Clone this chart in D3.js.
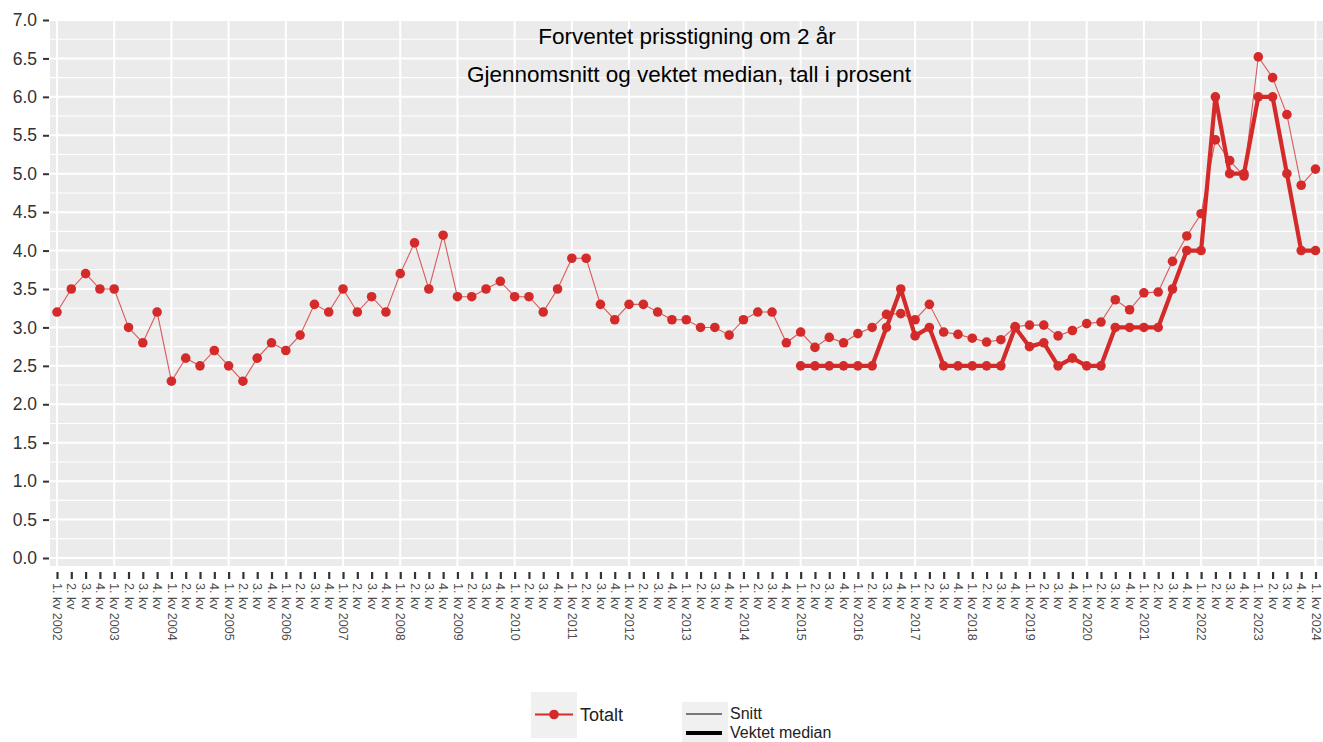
<!DOCTYPE html>
<html>
<head>
<meta charset="utf-8">
<script src="https://cdn.jsdelivr.net/npm/d3@7"></script>
<style>
  body { margin: 0; background: #fff; }
  text { font-family: "Liberation Sans", Arial, sans-serif; }
</style>
</head>
<body>
<svg width="1323" height="742"></svg>
<script>
var svg = d3.select("svg");

// kvartaler fra 1. kv 2002 til 1. kv 2024
var years = d3.range(2002, 2025);
var quarters = [];
years.forEach(function (y) {
  [1, 2, 3, 4].forEach(function (q) {
    if (y < 2024 || q == 1) quarters.push({ year: y, q: q });
  });
});

// Snitt, Totalt
var snitt = [3.2, 3.5, 3.7, 3.5, 3.5, 3.0, 2.8, 3.2,
  2.3, 2.6, 2.5, 2.7, 2.5, 2.3, 2.6, 2.8,
  2.7, 2.9, 3.3, 3.2, 3.5, 3.2, 3.4, 3.2,
  3.7, 4.1, 3.5, 4.2, 3.4, 3.4, 3.5, 3.6,
  3.4, 3.4, 3.2, 3.5, 3.9, 3.9, 3.3, 3.1,
  3.3, 3.3, 3.2, 3.1, 3.1, 3.0, 3.0, 2.9,
  3.1, 3.2, 3.2, 2.8, 2.94, 2.74, 2.87, 2.8,
  2.92, 3.0, 3.17, 3.18, 3.1, 3.3, 2.94, 2.91,
  2.86, 2.81, 2.84, 3.01, 3.03, 3.03, 2.89, 2.96,
  3.05, 3.07, 3.36, 3.23, 3.45, 3.46, 3.86, 4.19,
  4.48, 5.44, 5.17, 4.97, 6.52, 6.25, 5.77, 4.85, 5.06];

// Vektet median, Totalt (fra 1. kv 2015)
var medianStart = 52;
var median = [2.5, 2.5, 2.5, 2.5, 2.5, 2.5, 3.0, 3.5,
  2.89, 3.0, 2.5, 2.5, 2.5, 2.5, 2.5, 3.0,
  2.75, 2.8, 2.5, 2.6, 2.5, 2.5, 3.0, 3.0,
  3.0, 3.0, 3.5, 4.0, 4.0, 6.0, 5.0, 5.0,
  6.0, 6.0, 5.0, 4.0, 4.0];

var yTicks = d3.range(0, 7.01, 0.5);
var red = "#d42a2a";

var x = d3.scaleLinear().domain([0, quarters.length - 1]).range([57, 1315.5]);
var y = d3.scaleLinear().domain([0, 7]).range([558, 20]);

var panel = { left: 50, top: 19, right: 1330, bottom: 566 };

svg.append("rect")
    .attr("x", panel.left)
    .attr("y", panel.top)
    .attr("width", panel.right - panel.left)
    .attr("height", panel.bottom - panel.top)
    .attr("fill", "#ebebeb");

var grid = svg.append("g");

grid.selectAll(".minor")
    .data(d3.range(0.25, 7, 0.5))
    .enter().append("line")
    .attr("x1", panel.left).attr("x2", panel.right)
    .attr("y1", function (d) { return y(d); })
    .attr("y2", function (d) { return y(d); })
    .attr("stroke", "#fff")
    .attr("stroke-width", 1.1);

grid.selectAll(".major")
    .data(yTicks)
    .enter().append("line")
    .attr("x1", panel.left).attr("x2", panel.right)
    .attr("y1", function (d) { return y(d); })
    .attr("y2", function (d) { return y(d); })
    .attr("stroke", "#fff")
    .attr("stroke-width", 2);

grid.selectAll(".vert")
    .data(quarters.map(function (d, i) { return i; }).filter(function (i) { return quarters[i].q == 1; }))
    .enter().append("line")
    .attr("x1", function (d) { return x(d); })
    .attr("x2", function (d) { return x(d); })
    .attr("y1", panel.top).attr("y2", panel.bottom)
    .attr("stroke", "#fff")
    .attr("stroke-width", 2);

// y-akse
var yAxis = svg.append("g")
    .attr("transform", "translate(" + (panel.left - 1) + ",0)")
    .call(d3.axisLeft(y).tickValues(yTicks).tickFormat(d3.format(".1f")).tickSize(6).tickPadding(6));
yAxis.select(".domain").remove();
yAxis.selectAll(".tick line").attr("stroke", "#333").attr("stroke-width", 2);
yAxis.selectAll(".tick text")
    .attr("fill", "#333")
    .style("font-size", "17.5px")
    .style("font-family", "Liberation Sans, Arial, sans-serif");

// x-akse
var xAxis = svg.append("g")
    .attr("transform", "translate(0," + (panel.bottom + 6) + ")")
    .call(d3.axisBottom(x)
      .tickValues(d3.range(quarters.length))
      .tickSize(7)
      .tickFormat(function (i) {
        var d = quarters[i];
        return d.q + ". kv" + (d.q == 1 ? " " + d.year : "");
      }));
xAxis.select(".domain").remove();
xAxis.selectAll(".tick line").attr("stroke", "#333").attr("stroke-width", 2.2);
xAxis.selectAll(".tick text")
    .attr("fill", "#4d4d4d")
    .attr("transform", "rotate(90)")
    .attr("x", 11)
    .attr("y", 0)
    .attr("dy", "0.35em")
    .attr("text-anchor", "start")
    .style("font-size", "12.5px")
    .style("font-family", "Liberation Sans, Arial, sans-serif");

// linjer
var snittLine = d3.line()
    .x(function (d, i) { return x(i); })
    .y(function (d) { return y(d); });

var medianLine = d3.line()
    .x(function (d, i) { return x(i + medianStart); })
    .y(function (d) { return y(d); });

svg.append("path")
    .datum(snitt)
    .attr("d", snittLine)
    .attr("fill", "none")
    .attr("stroke", red)
    .attr("stroke-opacity", 0.75)
    .attr("stroke-width", 1.1);

svg.append("g").selectAll("circle")
    .data(snitt)
    .enter().append("circle")
    .attr("cx", function (d, i) { return x(i); })
    .attr("cy", function (d) { return y(d); })
    .attr("r", 4.8)
    .attr("fill", red);

svg.append("path")
    .datum(median)
    .attr("d", medianLine)
    .attr("fill", "none")
    .attr("stroke", red)
    .attr("stroke-width", 4.2)
    .attr("stroke-linejoin", "round");

svg.append("g").selectAll("circle")
    .data(median)
    .enter().append("circle")
    .attr("cx", function (d, i) { return x(i + medianStart); })
    .attr("cy", function (d) { return y(d); })
    .attr("r", 4.8)
    .attr("fill", red);

// tittel
svg.append("text")
    .attr("x", 687)
    .attr("y", 44)
    .attr("text-anchor", "middle")
    .style("font-size", "22.5px")
    .attr("fill", "#000")
    .text("Forventet prisstigning om 2 år");

svg.append("text")
    .attr("x", 689)
    .attr("y", 82)
    .attr("text-anchor", "middle")
    .style("font-size", "22.5px")
    .attr("fill", "#000")
    .text("Gjennomsnitt og vektet median, tall i prosent");

// legende
var leg1 = svg.append("g").attr("transform", "translate(531,692)");
leg1.append("rect").attr("width", 46).attr("height", 46).attr("fill", "#f0f0f0");
leg1.append("line").attr("x1", 4).attr("x2", 42).attr("y1", 22.5).attr("y2", 22.5)
    .attr("stroke", red).attr("stroke-width", 2);
leg1.append("circle").attr("cx", 23).attr("cy", 22.5).attr("r", 4.8).attr("fill", red);
leg1.append("text").attr("x", 49).attr("y", 29).style("font-size", "18px").attr("fill", "#222").text("Totalt");

var leg2 = svg.append("g").attr("transform", "translate(682,702)");
leg2.append("rect").attr("width", 46).attr("height", 40).attr("fill", "#f0f0f0");
leg2.append("line").attr("x1", 4).attr("x2", 40).attr("y1", 12).attr("y2", 12)
    .attr("stroke", "#000").attr("stroke-width", 1);
leg2.append("line").attr("x1", 4).attr("x2", 40).attr("y1", 31).attr("y2", 31)
    .attr("stroke", "#000").attr("stroke-width", 4);
leg2.append("text").attr("x", 48).attr("y", 17).style("font-size", "16px").attr("fill", "#222").text("Snitt");
leg2.append("text").attr("x", 48).attr("y", 35.5).style("font-size", "16px").attr("fill", "#222").text("Vektet median");
</script>
</body>
</html>
